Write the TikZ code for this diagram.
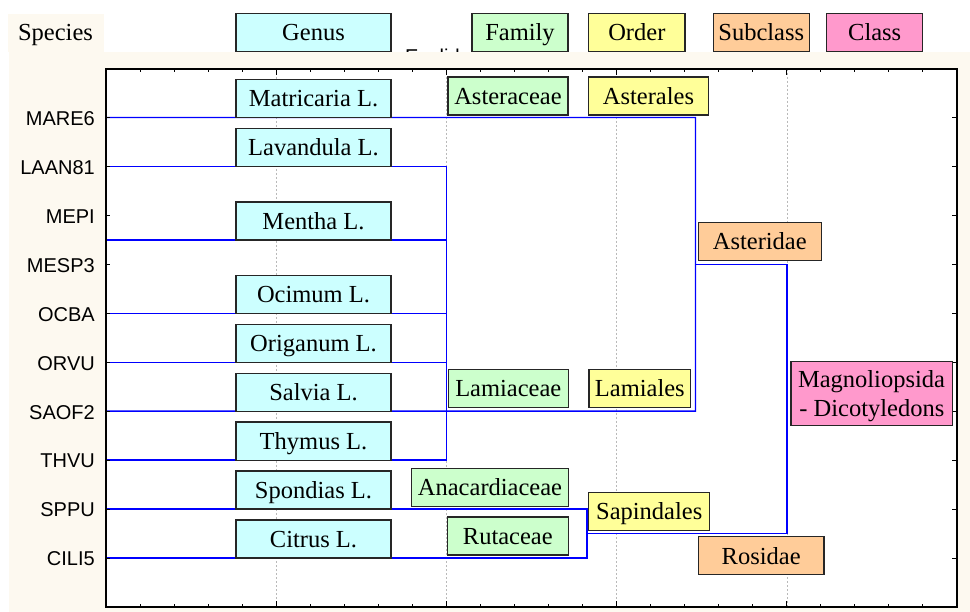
\documentclass[tikz,border=0pt]{standalone}
\usepackage{fontspec}
\setmainfont{Liberation Serif}
\newfontfamily\arialfont{Liberation Sans}
\definecolor{cream}{RGB}{253,249,240}
\definecolor{genusc}{RGB}{204,255,255}
\definecolor{familyc}{RGB}{204,255,204}
\definecolor{orderc}{RGB}{255,255,153}
\definecolor{subc}{RGB}{255,204,153}
\definecolor{classc}{RGB}{255,153,204}
\definecolor{gridc}{RGB}{185,185,185}
\definecolor{dendc}{RGB}{0,0,255}
\tikzset{
  taxbox/.style={draw=black!85, line width=1.3pt, inner sep=0pt,
    font=\fontsize{24.5}{29}\selectfont, text height=16.5pt, text depth=0pt},
  dend/.style={draw=dendc, line width=1.4pt},
  gridline/.style={draw=gridc, line width=0.6pt, dash pattern=on 2pt off 2pt},
  spec/.style={anchor=east, inner sep=0pt, font=\arialfont\fontsize{20}{24}\selectfont},
  axtick/.style={draw=black, line width=1pt},
  frameline/.style={draw=black, line width=1.5pt},
}
\newcommand{\mkbox}[7]{%
  \node[taxbox, fill=#2, minimum width={#5-#3}, minimum height={#6-#4}] (#1) at ({(#3+#5)/2},{(#4+#6)/2}) {#7};}
\begin{document}
\begin{tikzpicture}[x=1pt,y=-1pt]
\useasboundingbox (0,0) rectangle (970,612);
% title sliver (mostly hidden behind the plot background)
\begin{scope}
  \clip (0,0) rectangle (970,51.7);
  \node[anchor=base west, inner sep=0pt, font=\arialfont\fontsize{20}{24}\selectfont] (etitle) at (405,63.5) {Euclidean distances};
\end{scope}
% backgrounds
\fill[cream] (9,51.7) rectangle (970,612);
\fill[cream] (8,13.7) rectangle (104,52);
\fill[white] (106,69) rectangle (957,607);
% grid
\foreach \k in {5,10,15,20}{
  \pgfmathsetmacro{\gx}{106+34.04*\k}
  \draw[gridline] (\gx,69) -- (\gx,607);
}
% species coordinates
\foreach \i in {0,...,9}{
  \pgfmathsetmacro{\ry}{117.5+48.95*\i}
  \coordinate (s\i) at (106,\ry);
}
\coordinate (s23) at (106,239.9);
\coordinate (jL) at (446.4,411.2);
\coordinate (aTop) at (695.5,117.5);
\coordinate (aBot) at (695.5,411.2);
\coordinate (jA) at (695.5,264.35);
\coordinate (jS) at (587,533.6);
\coordinate (jR) at (786.8,399);
% dendrogram
\draw[dend] (s0) -- (aTop) -- (aBot) -- (s6);
\draw[dend] (s1) -- (s1 -| jL) -- (s7 -| jL) -- (s7);
\foreach \s in {s23,s4,s5}{ \draw[dend] (\s) -- (\s -| jL); }
\draw[dend] (jA) -- (jA -| jR) -- (jS -| jR) -- (jS);
\draw[dend] (s8) -- (s8 -| jS) -- (s9 -| jS) -- (s9);
% frame and ticks
\draw[frameline] (106,69) rectangle (957,607);
\foreach \k in {1,...,24}{
  \pgfmathsetmacro{\tx}{106+34.04*\k}
  \pgfmathtruncatemacro{\ismaj}{mod(\k,5)==0 ? 1 : 0}
  \ifnum\ismaj=1 \def\tl{6}\else\def\tl{3.5}\fi
  \draw[axtick] (\tx,69) -- ++(0,\tl);
  \draw[axtick] (\tx,607) -- ++(0,-\tl);
}
\foreach \i in {0,...,9}{
  \pgfmathsetmacro{\ry}{117.5+48.95*\i}
  \draw[axtick] (106,\ry) -- ++(4,0);
  \draw[axtick] (957,\ry) -- ++(-5,0);
}
% species labels
\node[spec] (l0) at (95,118.5) {MARE6};
\node[spec] (l1) at (95,167.4) {LAAN81};
\node[spec] (l2) at (95,216.4) {MEPI};
\node[spec] (l3) at (95,265.3) {MESP3};
\node[spec] (l4) at (95,314.3) {OCBA};
\node[spec] (l5) at (95,363.2) {ORVU};
\node[spec] (l6) at (95,412.2) {SAOF2};
\node[spec] (l7) at (95,461.1) {THVU};
\node[spec] (l8) at (95,510.1) {SPPU};
\node[spec] (l9) at (95,559.0) {CILI5};
% header
\node[anchor=base, inner sep=0pt, font=\fontsize{24.5}{29}\selectfont] (hspecies) at (55.5,40.3) {Species};
\mkbox{hgenus}{genusc}{236}{13.7}{391}{51.7}{Genus}
\mkbox{hfamily}{familyc}{472}{13.7}{568}{51.7}{Family}
\mkbox{horder}{orderc}{588.7}{13.7}{685}{51.7}{Order}
\mkbox{hsub}{subc}{713.3}{13.7}{809.3}{51.7}{Subclass}
\mkbox{hclass}{classc}{826.7}{13.7}{922.7}{51.7}{Class}
% genus boxes
\mkbox{g0}{genusc}{236}{79.5}{391}{117.5}{Matricaria L.}
\mkbox{g1}{genusc}{236}{128.45}{391}{166.45}{Lavandula L.}
\mkbox{g2}{genusc}{236}{201.9}{391}{239.9}{Mentha L.}
\mkbox{g3}{genusc}{236}{275.3}{391}{313.3}{Ocimum L.}
\mkbox{g4}{genusc}{236}{324.25}{391}{362.25}{Origanum L.}
\mkbox{g5}{genusc}{236}{373.2}{391}{411.2}{Salvia L.}
\mkbox{g6}{genusc}{236}{422.15}{391}{460.15}{Thymus L.}
\mkbox{g7}{genusc}{236}{471.1}{391}{509.1}{Spondias L.}
\mkbox{g8}{genusc}{236}{520.05}{391}{558.05}{Citrus L.}
% family boxes
\mkbox{f0}{familyc}{448}{77}{568}{115}{Asteraceae}
\mkbox{f1}{familyc}{448.3}{369.3}{568.3}{407.3}{Lamiaceae}
\mkbox{f2}{familyc}{411.7}{468.3}{568.3}{506.3}{Anacardiaceae}
\mkbox{f3}{familyc}{447.3}{516.9}{568.3}{554.9}{Rutaceae}
% order boxes
\mkbox{o0}{orderc}{588.7}{77}{708.3}{115}{Asterales}
\mkbox{o1}{orderc}{589}{369.3}{690.7}{407.3}{Lamiales}
\mkbox{o2}{orderc}{588.7}{492.3}{709.7}{530.7}{Sapindales}
% subclass boxes
\mkbox{c0}{subc}{698.3}{222.3}{821.3}{260.3}{Asteridae}
\mkbox{c1}{subc}{698.3}{536.8}{824}{574.8}{Rosidae}
% class box
\mkbox{k0}{classc}{791}{361.7}{952.7}{425.7}{}
\node[anchor=base, inner sep=0pt, font=\fontsize{24.5}{29}\selectfont] (k0a) at (871.5,387.7) {Magnoliopsida};
\node[anchor=base, inner sep=0pt, font=\fontsize{24.5}{29}\selectfont] (k0b) at (871.8,416.7) {- Dicotyledons};
\end{tikzpicture}
\end{document}
